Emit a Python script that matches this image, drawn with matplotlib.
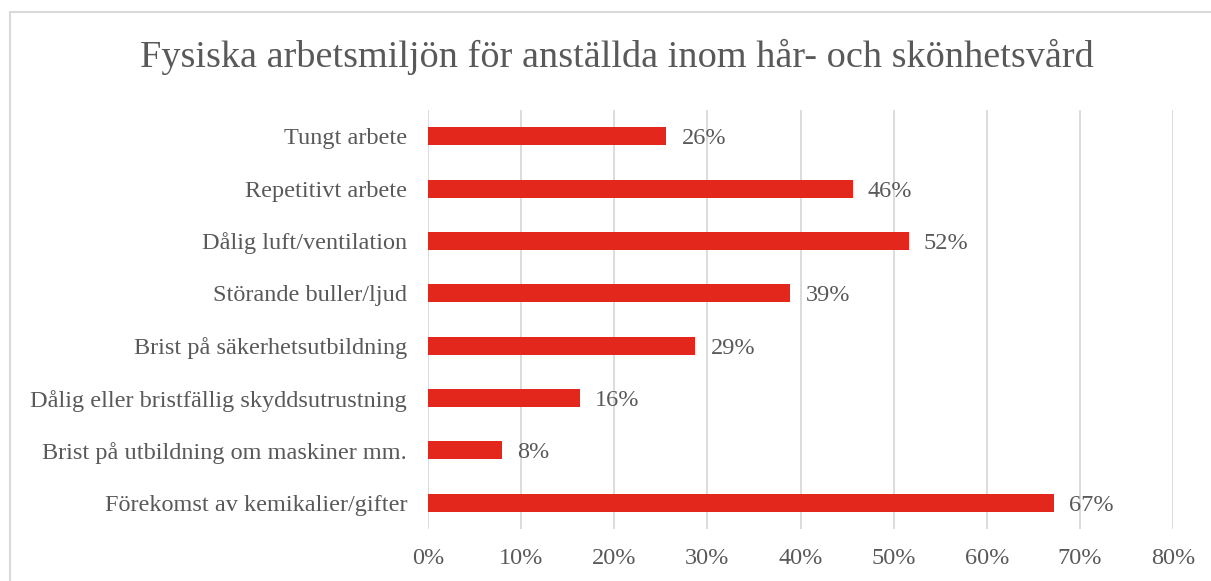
import numpy as np
import matplotlib.pyplot as plt
from matplotlib.patches import Rectangle

plt.rcParams['font.family'] = ['Liberation Serif', 'DejaVu Serif']

# Data
kategorier = ["Tungt arbete",
              "Repetitivt arbete",
              "Dålig luft/ventilation",
              "Störande buller/ljud",
              "Brist på säkerhetsutbildning",
              "Dålig eller bristfällig skyddsutrustning",
              "Brist på utbildning om maskiner mm.",
              "Förekomst av kemikalier/gifter"]
andelar = [0.256, 0.456, 0.516, 0.389, 0.287, 0.163, 0.079, 0.672]
etiketter = ["26%", "46%", "52%", "39%", "29%", "16%", "8%", "67%"]
xticks = [0, 0.1, 0.2, 0.3, 0.4, 0.5, 0.6, 0.7, 0.8]

grå = '#595959'
röd = '#E3271C'

W, H = 1211, 581
fig = plt.figure(figsize=(W/100, H/100), dpi=100)

# ram runt diagrammet
fig.patches.append(Rectangle((10/W, -0.01), 1.02 - 10/W, 1 - 12/H + 0.01,
                             transform=fig.transFigure, fill=False,
                             edgecolor='#D9D9D9', linewidth=1.5))

ax = fig.add_axes([428/W, 1 - 529/H, (1173-428)/W, (529-110)/H])
y = np.arange(len(kategorier))
ax.barh(y, andelar, height=0.345, color=röd, zorder=3)
ax.set_ylim(len(kategorier) - 0.5, -0.5)
ax.set_xlim(0, 0.8)
ax.set_yticks(y)
ax.set_yticklabels(kategorier, fontsize=17.5, color=grå)
ax.set_xticks(xticks)
ax.set_xticklabels([f"{int(round(v*100))}%" for v in xticks], fontsize=17.5, color=grå)
ax.tick_params(axis='both', length=0)
ax.tick_params(axis='y', pad=15)
ax.tick_params(axis='x', pad=14)
ax.grid(axis='x', color='#D9D9D9', linewidth=1.3, zorder=0)
ax.set_axisbelow(True)
for s in ax.spines.values():
    s.set_visible(False)

for yi, v, lab in zip(y, andelar, etiketter):
    ax.annotate(lab, (v, yi), xytext=(11, 0), textcoords='offset points',
                va='center_baseline', ha='left', fontsize=17.5, color=grå)

fig.text(617/W, 1 - 57/H, "Fysiska arbetsmiljön för anställda inom hår- och skönhetsvård",
         ha='center', va='center', fontsize=27.5, color=grå)

fig.savefig("out.png", dpi=100)
